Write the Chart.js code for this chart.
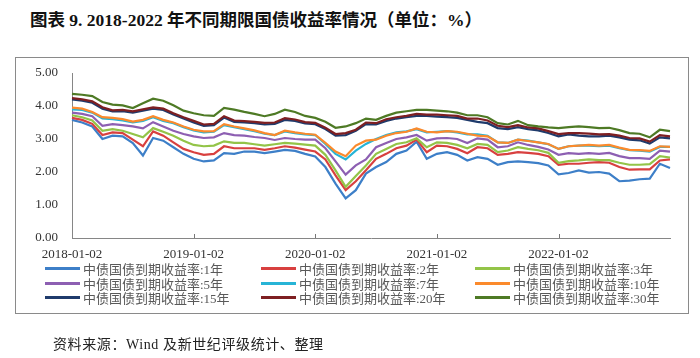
<!DOCTYPE html>
<html>
<head>
<meta charset="utf-8">
<script src="https://cdn.jsdelivr.net/npm/chart.js@4"></script>
<style>
  body { margin: 0; background: #fff; }
  #wrap { position: relative; width: 700px; height: 358px; overflow: hidden; }
  #title { position: absolute; left: 30px; top: 6px; font: bold 17.5px "Liberation Serif", "Noto Sans CJK SC", serif; color: #111; white-space: nowrap; }
  #frame { position: absolute; left: 15px; top: 57px; width: 672px; height: 255px; border: 1px solid #8a8a8a; }
  #c { position: absolute; left: 0; top: 0; }
  #legend { position: absolute; left: 0; top: 0; }
  .item { position: absolute; height: 15px; display: flex; align-items: center; font: 13px "Liberation Serif", "Noto Sans CJK SC", serif; color: #595959; white-space: nowrap; }
  .swatch { width: 35px; height: 3px; margin-right: 3px; }
  #source { position: absolute; left: 53px; top: 333px; font: 14px "Liberation Serif", "Noto Sans CJK SC", serif; color: #222; white-space: nowrap; letter-spacing: 0.6px; }
</style>
</head>
<body>
<div id="wrap">
  <div id="title">图表 9. 2018-2022 年不同期限国债收益率情况（单位：%）</div>
  <div id="frame"></div>
  <canvas id="c" width="700" height="358"></canvas>
  <div id="legend"></div>
  <div id="source">资料来源：Wind 及新世纪评级统计、整理</div>
</div>
<script>
// monthly readings, Jan 2018 .. Dec 2022
const years = [2018, 2019, 2020, 2021, 2022];
const tickLabels = ['2018-01-02', '2019-01-02', '2020-01-02', '2021-01-02', '2022-01-02'];

const y1 = [3.58,3.50,3.38,3.00,3.10,3.08,2.88,2.50,3.03,2.95,2.75,2.55, 2.40,2.32,2.35,2.57,2.55,2.62,2.62,2.57,2.62,2.67,2.64,2.55, 2.47,2.15,1.65,1.20,1.45,1.95,2.15,2.30,2.55,2.65,2.92,2.40, 2.55,2.60,2.52,2.35,2.45,2.40,2.22,2.30,2.32,2.30,2.27,2.20, 1.93,1.97,2.05,1.98,2.00,1.95,1.72,1.74,1.78,1.80,2.25,2.12];
const y2 = [3.64,3.58,3.46,3.12,3.20,3.18,2.98,2.78,3.23,3.10,2.90,2.70, 2.60,2.52,2.55,2.78,2.72,2.72,2.72,2.67,2.72,2.78,2.74,2.68, 2.62,2.38,1.90,1.45,1.72,2.05,2.40,2.55,2.72,2.80,2.98,2.60, 2.80,2.78,2.70,2.57,2.75,2.72,2.52,2.55,2.60,2.58,2.55,2.48, 2.22,2.25,2.25,2.28,2.30,2.28,2.15,2.07,2.08,2.08,2.35,2.38];
const y3 = [3.72,3.66,3.56,3.25,3.30,3.25,3.15,3.05,3.33,3.22,3.10,2.95, 2.82,2.78,2.80,2.93,2.88,2.88,2.84,2.80,2.84,2.88,2.86,2.83, 2.80,2.52,2.05,1.55,1.88,2.20,2.55,2.70,2.85,2.90,3.02,2.75, 2.90,2.88,2.82,2.72,2.85,2.82,2.60,2.65,2.75,2.70,2.66,2.58, 2.28,2.33,2.35,2.38,2.36,2.36,2.28,2.22,2.22,2.24,2.48,2.44];
const y5 = [3.80,3.76,3.69,3.40,3.45,3.42,3.38,3.32,3.51,3.38,3.25,3.15, 3.08,3.03,3.05,3.18,3.12,3.10,3.06,3.03,2.97,3.03,3.00,2.98, 2.98,2.72,2.32,1.92,2.20,2.38,2.75,2.88,3.00,3.05,3.12,2.95, 3.02,3.03,3.00,2.88,3.02,2.98,2.75,2.78,2.90,2.82,2.76,2.68, 2.52,2.57,2.55,2.57,2.55,2.58,2.48,2.42,2.42,2.40,2.65,2.62];
const y7 = [3.90,3.88,3.80,3.62,3.60,3.56,3.50,3.55,3.66,3.55,3.48,3.36, 3.26,3.20,3.22,3.42,3.36,3.30,3.24,3.16,3.12,3.23,3.18,3.14, 3.12,2.85,2.55,2.38,2.65,2.85,3.00,3.12,3.20,3.23,3.30,3.20, 3.22,3.24,3.20,3.14,3.14,3.10,2.90,2.88,2.98,2.95,2.90,2.84, 2.70,2.78,2.80,2.80,2.78,2.80,2.72,2.66,2.65,2.62,2.76,2.76];
const y10 = [3.95,3.92,3.82,3.66,3.64,3.60,3.53,3.58,3.69,3.58,3.50,3.38, 3.28,3.23,3.24,3.45,3.38,3.32,3.26,3.18,3.12,3.25,3.20,3.16, 3.13,2.88,2.62,2.48,2.80,2.95,2.98,3.10,3.18,3.22,3.32,3.22, 3.20,3.24,3.22,3.16,3.10,3.08,2.90,2.88,2.98,2.94,2.90,2.85, 2.70,2.78,2.80,2.82,2.80,2.82,2.74,2.67,2.66,2.64,2.78,2.76];
const y15 = [4.20,4.16,4.10,3.92,3.84,3.84,3.80,3.86,3.92,3.88,3.74,3.62, 3.50,3.40,3.42,3.65,3.52,3.50,3.48,3.44,3.46,3.58,3.55,3.47, 3.45,3.30,3.10,3.12,3.25,3.45,3.44,3.55,3.62,3.66,3.70,3.70, 3.68,3.66,3.64,3.58,3.52,3.48,3.33,3.30,3.36,3.30,3.26,3.18, 3.08,3.14,3.10,3.08,3.08,3.10,3.05,2.98,2.96,2.86,3.05,3.02];
const y20 = [4.24,4.20,4.14,3.96,3.87,3.88,3.84,3.90,3.96,3.92,3.78,3.66, 3.55,3.44,3.46,3.69,3.56,3.54,3.52,3.49,3.50,3.63,3.59,3.51, 3.49,3.34,3.15,3.18,3.28,3.50,3.48,3.60,3.66,3.70,3.76,3.74, 3.74,3.72,3.70,3.62,3.62,3.56,3.40,3.36,3.42,3.35,3.32,3.24, 3.15,3.18,3.18,3.16,3.14,3.15,3.10,3.03,3.02,2.92,3.12,3.08];
const y30 = [4.37,4.34,4.30,4.12,4.04,4.02,3.94,4.08,4.22,4.16,4.02,3.86, 3.78,3.72,3.70,3.94,3.89,3.82,3.76,3.69,3.76,3.89,3.82,3.70, 3.64,3.52,3.34,3.38,3.48,3.62,3.58,3.70,3.80,3.84,3.88,3.88, 3.86,3.84,3.80,3.72,3.72,3.66,3.48,3.44,3.55,3.42,3.38,3.35, 3.33,3.36,3.38,3.36,3.33,3.34,3.27,3.18,3.16,3.05,3.28,3.24];

const names = ['1年', '2年', '3年', '5年', '7年', '10年', '15年', '20年', '30年'].map(t => '中债国债到期收益率:' + t);
const colors = ['#3d7fc8', '#d8403f', '#93c448', '#8d5fb2', '#27b4d6', '#fb8a2c', '#1f3b6c', '#7e1f22', '#4e7a25'];
const series = [y1, y2, y3, y5, y7, y10, y15, y20, y30];

const months = [];
years.forEach(y => {
    for (let m = 1; m <= 12; m++) months.push(y + '-' + String(m).padStart(2, '0'));
});

// small upward tick marks on the date axis, like the original
const innerTicks = {
    id: 'innerTicks',
    afterDraw(chart) {
        const x = chart.scales.x, ctx = chart.ctx, yb = chart.chartArea.bottom;
        ctx.save();
        ctx.strokeStyle = '#777';
        ctx.lineWidth = 1;
        months.forEach((m, i) => {
            if (i > 0 && m.endsWith('-01')) {
                const px = Math.round(x.getPixelForValue(i)) + 0.5;
                ctx.beginPath();
                ctx.moveTo(px, yb);
                ctx.lineTo(px, yb - 4);
                ctx.stroke();
            }
        });
        ctx.restore();
    }
};

Chart.defaults.font.family = '"Liberation Serif", "Times New Roman", serif';
Chart.defaults.font.size = 13;
Chart.defaults.color = '#333';

new Chart(document.getElementById('c'), {
    type: 'line',
    data: {
        labels: months,
        datasets: series.map((d, i) => ({
            label: names[i],
            data: d,
            borderColor: colors[i],
            backgroundColor: colors[i],
            borderWidth: 2.2,
            pointRadius: 0,
            tension: 0,
            order: 8 - i
        }))
    },
    options: {
        responsive: false,
        animation: false,
        layout: { padding: { top: 73, right: 30, bottom: 100, left: 0 } },
        plugins: {
            legend: { display: false },
            tooltip: { enabled: false }
        },
        scales: {
            x: {
                grid: { display: false, drawTicks: false },
                border: { color: '#868686', width: 1 },
                ticks: {
                    autoSkip: false,
                    maxRotation: 0,
                    minRotation: 0,
                    padding: 9,
                    color: '#333',
                    callback: function (v, i) {
                        const m = months[i];
                        return m.endsWith('-01') ? tickLabels[years.indexOf(+m.slice(0, 4))] : '';
                    }
                },
                afterFit: s => { s.height = 20; }
            },
            y: {
                min: 0,
                max: 5,
                grid: { display: false, drawTicks: false },
                border: { color: '#868686', width: 1 },
                ticks: {
                    stepSize: 1,
                    padding: 14,
                    color: '#333',
                    callback: v => v.toFixed(2)
                },
                afterFit: s => { s.width = 72; }
            }
        }
    },
    plugins: [innerTicks]
});

// legend in three columns, as in the source figure
const legend = document.getElementById('legend');
const colX = [45, 261, 475];
const rowY = [261, 276, 290];
names.forEach((n, i) => {
    const el = document.createElement('div');
    el.className = 'item';
    el.style.left = colX[i % 3] + 'px';
    el.style.top = rowY[Math.floor(i / 3)] + 'px';
    el.innerHTML = '<span class="swatch" style="background:' + colors[i] + '"></span>' + n;
    legend.appendChild(el);
});
</script>
</body>
</html>
